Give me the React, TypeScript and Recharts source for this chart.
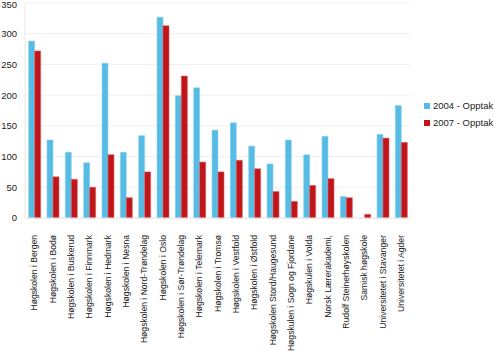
import { BarChart, Bar, XAxis, YAxis, CartesianGrid } from 'recharts';

const schools = [
  'Høgskolen i Bergen',
  'Høgskolen i Bodø',
  'Høgskolen i Buskerud',
  'Høgskolen i Finnmark',
  'Høgskolen i Hedmark',
  'Høgskolen i Nesna',
  'Høgskolen i Nord-Trøndelag',
  'Høgskolen i Oslo',
  'Høgskolen i Sør-Trøndelag',
  'Høgskolen i Telemark',
  'Høgskolen i Tromsø',
  'Høgskolen i Vestfold',
  'Høgskolen i Østfold',
  'Høgskolen Stord/Haugesund',
  'Høgskulen i Sogn og Fjordane',
  'Høgskulen i Volda',
  'Norsk Lærerakademi,',
  'Rudolf Steinerhøyskolen',
  'Samisk høgskole',
  'Universitetet i Stavanger',
  'Universitetet i Agder',
];

const opptak2004 = [288, 127, 107, 90, 252, 107, 134, 327, 199, 212, 143, 155, 117, 88, 127, 103, 133, 35, 0, 136, 183];
const opptak2007 = [272, 67, 63, 50, 103, 33, 75, 313, 231, 91, 75, 94, 80, 43, 27, 53, 64, 33, 6, 130, 123];

const yTicks = [0, 50, 100, 150, 200, 250, 300, 350];

const series = [
  { key: 'y2004', name: '2004 - Opptak', color: '#56bce3', edge: '#8dd2ee' },
  { key: 'y2007', name: '2007 - Opptak', color: '#c0161b', edge: '#dc5a5e' },
];

const data = schools.map((name, i) => ({
  name,
  y2004: opptak2004[i],
  y2007: opptak2007[i],
}));

const font = '"Liberation Sans", Arial, sans-serif';

function SchoolTick({ x, y, payload }: any) {
  return (
    <text
      x={0}
      y={0}
      dy="0.35em"
      textAnchor="end"
      transform={`translate(${x},${y + 9}) rotate(-90)`}
      fontSize={8.6}
      fontFamily={font}
      fill="#222"
    >
      {payload.value}
    </text>
  );
}

export default function App() {
  return (
    <div style={{ position: 'absolute', left: 0, top: 0, width: 500, height: 351, background: '#fff' }}>
      <BarChart
        width={500}
        height={351}
        data={data}
        margin={{ top: 3, right: 90, left: 0, bottom: 0 }}
        barCategoryGap="20%"
        barGap={0}
      >
        <CartesianGrid vertical={false} stroke="#efefef" />
        <XAxis
          dataKey="name"
          interval={0}
          height={133}
          tick={<SchoolTick />}
          tickLine={false}
          axisLine={{ stroke: '#e6e6e6' }}
        />
        <YAxis
          width={25}
          domain={[0, 350]}
          ticks={yTicks}
          tickLine={false}
          tickSize={0}
          tickMargin={8}
          axisLine={{ stroke: '#e6e6e6' }}
          tick={{ fontSize: 9.5, fontFamily: font, fill: '#222' }}
        />
        {series.map((s) => (
          <Bar
            key={s.key}
            dataKey={s.key}
            name={s.name}
            fill={s.color}
            stroke={s.edge}
            strokeWidth={0.6}
            isAnimationActive={false}
          />
        ))}
      </BarChart>
      <div style={{ position: 'absolute', left: 424, top: 97, fontFamily: font, fontSize: 9.5, color: '#222' }}>
        {series.map((s) => (
          <div key={s.key} style={{ display: 'flex', alignItems: 'center', height: 17 }}>
            <span style={{ display: 'inline-block', width: 6, height: 6, background: s.color, marginRight: 3 }} />
            <span>{s.name}</span>
          </div>
        ))}
      </div>
    </div>
  );
}
